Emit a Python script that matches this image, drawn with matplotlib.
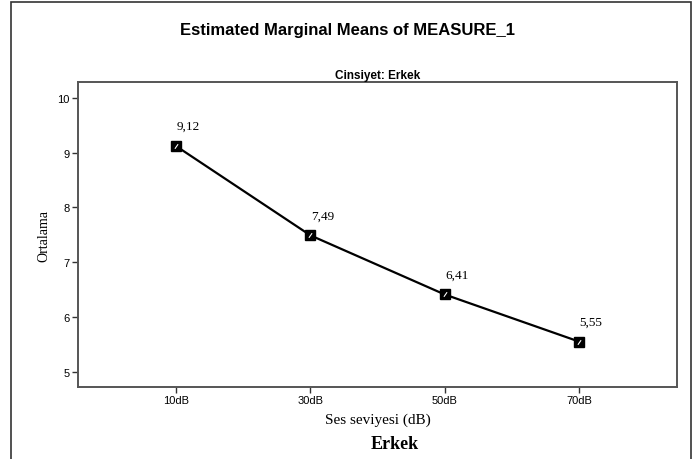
"""Estimated marginal means plot (SPSS style)"""

import matplotlib
matplotlib.use('Agg')
from matplotlib import pyplot as plt
from matplotlib.patches import Rectangle

# data
levels = ['10dB', '30dB', '50dB', '70dB']
means = [9.12, 7.49, 6.41, 5.55]
mean_labels = ['9,12', '7,49', '6,41', '5,55']
y_ticks = [5, 6, 7, 8, 9, 10]

W, H = 694, 460
fig = plt.figure(figsize=(W / 100, H / 100), dpi=100)

# outer frame
fig.patches.append(Rectangle((11 / W, -0.01), 680 / W, 1 - 3 / H + 0.01,
                             transform=fig.transFigure, fill=False,
                             edgecolor='#333333', linewidth=1.2))

ax = fig.add_axes([78 / W, 1 - 388 / H, (677 - 78) / W, (388 - 83) / H])
x = list(range(len(levels)))
ax.plot(x, means, color='black', linewidth=1.6, marker='s', markersize=7,
        markerfacecolor='black', markeredgecolor='black')
# small white slash on the markers
ax.plot(x, means, linestyle='none', marker=(2, 0, -35), markersize=4,
        markeredgecolor='white', markeredgewidth=0.8)

for xi, yi, lab in zip(x, means, mean_labels):
    ax.annotate(lab, (xi, yi), xytext=(12, 20), textcoords='offset pixels',
                ha='center', va='center', fontsize=9.5,
                family='Liberation Serif')

ax.set_xlim(-0.73, 3.73)
ax.set_ylim(4.72, 10.29)
ax.set_xticks(x)
ax.set_xticklabels(levels, family='Liberation Sans', fontsize=8)
ax.set_yticks(y_ticks)
ax.set_yticklabels([str(v) for v in y_ticks], family='Liberation Sans', fontsize=8)
ax.tick_params(direction='out', length=4, width=1.0, color='#333333', pad=2)
for sp in ax.spines.values():
    sp.set_linewidth(1.4)
    sp.set_color('#555555')

ax.set_title('Cinsiyet: Erkek', fontsize=8.5, fontweight='bold',
             family='Liberation Sans', pad=3)
ax.set_ylabel('Ortalama', family='Liberation Serif', fontsize=10, labelpad=5)
ax.set_xlabel('Ses seviyesi (dB)', family='Liberation Serif', fontsize=11, labelpad=5)

fig.text(347 / W, 1 - 30 / H, 'Estimated Marginal Means of MEASURE_1',
         ha='center', va='center', fontsize=12, fontweight='bold',
         family='Liberation Sans')
fig.text(395 / W, 1 - 445 / H, 'Erkek', ha='center', va='center',
         fontsize=13, fontweight='bold', family='Liberation Serif')

fig.savefig('out.png', dpi=100)
